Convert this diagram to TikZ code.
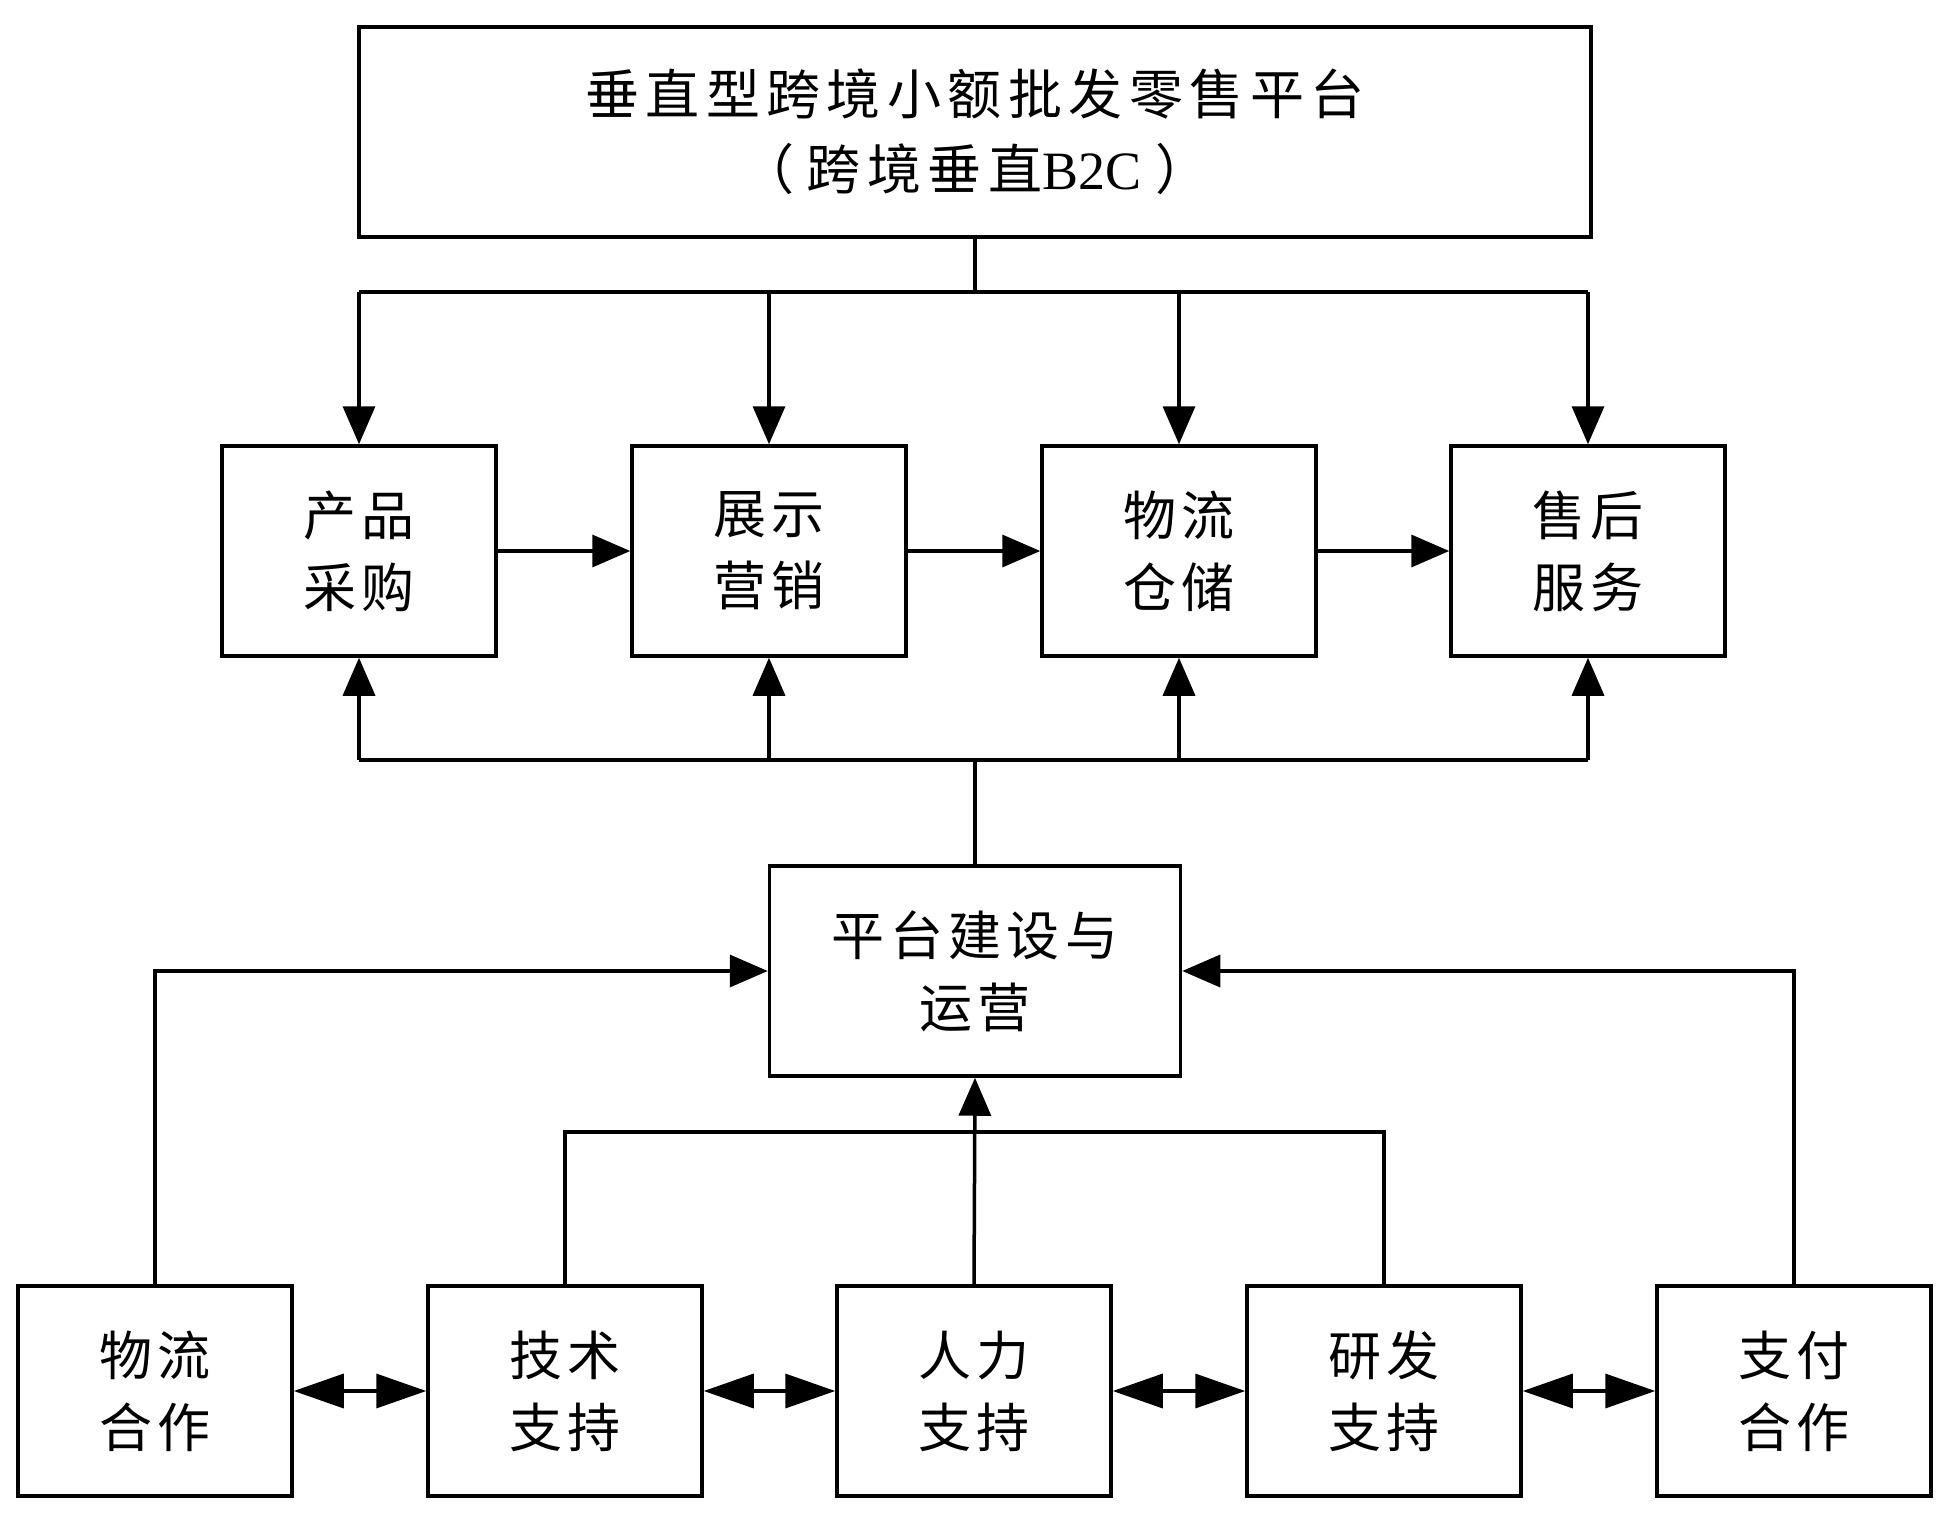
\documentclass[tikz,border=0pt]{standalone}
\usepackage{fontspec}
\setmainfont{Liberation Serif}
\newfontfamily\cjk[LetterSpace=10]{Noto Sans CJK SC}
\newfontfamily\cjkt[LetterSpace=12]{Noto Sans CJK SC}
\usetikzlibrary{arrows.meta}
\tikzset{
  box/.style={draw, line width=3.5pt, inner sep=0pt, align=center,
    minimum width=274pt, minimum height=210pt,
    font=\cjk\fontsize{53}{72}\selectfont},
  conn/.style={line width=3.5pt},
  arr/.style={line width=3.5pt, -{Triangle[length=38pt,width=32pt]}},
  darr/.style={line width=3.5pt, {Triangle[length=50pt,width=34pt]}-{Triangle[length=50pt,width=34pt]}}
}
\begin{document}
\begin{tikzpicture}[x=1pt,y=-1pt]
\useasboundingbox (0,0) rectangle (1960,1514);
\fill[white] (0,0) rectangle (1960,1514);
% top
\node[box, minimum width=1232pt, minimum height=210pt, font=\cjkt\fontsize{54}{75}\selectfont] (top) at (975,132) {垂直型跨境小额批发零售平台\\（\hspace{12pt}跨境垂直{\rmfamily B2C}\hspace{14pt}）};
% row 2
\node[box] (b1) at (359,551) {产品\\采购};
\node[box] (b2) at (769,551) {展示\\营销};
\node[box] (b3) at (1179,551) {物流\\仓储};
\node[box] (b4) at (1588,551) {售后\\服务};
% platform
\node[box, minimum width=411pt] (plat) at (975,971) {平台建设与\\运营};
% bottom row
\node[box] (c1) at (155,1391) {物流\\合作};
\node[box] (c2) at (565,1391) {技术\\支持};
\node[box] (c3) at (974,1391) {人力\\支持};
\node[box] (c4) at (1384,1391) {研发\\支持};
\node[box] (c5) at (1794,1391) {支付\\合作};
\coordinate (busT) at (975,292);
\coordinate (busM) at (975,760);
\coordinate (busB) at (975,1132);
% top bus
\draw[conn] (top.south) -- (busT);
\draw[conn] (b1.north |- busT) -- (b4.north |- busT);
\foreach \b in {b1,b2,b3,b4} \draw[arr] (\b.north |- busT) -- (\b.north);
% row arrows
\draw[arr] (b1.east) -- (b2.west);
\draw[arr] (b2.east) -- (b3.west);
\draw[arr] (b3.east) -- (b4.west);
% middle bus
\draw[conn] (plat.north) -- (busM);
\draw[conn] (b1.south |- busM) -- (b4.south |- busM);
\foreach \b in {b1,b2,b3,b4} \draw[arr] (\b.south |- busM) -- (\b.south);
% to platform
\draw[arr] (c1.north) |- (plat.west);
\draw[arr] (c5.north) |- (plat.east);
\draw[conn] (c2.north) -- (c2.north |- busB) -- (c4.north |- busB) -- (c4.north);
\draw[arr] (c3.north) -- (plat.south);
% double arrows
\draw[darr] (c1.east) -- (c2.west);
\draw[darr] (c2.east) -- (c3.west);
\draw[darr] (c3.east) -- (c4.west);
\draw[darr] (c4.east) -- (c5.west);
\end{tikzpicture}
\end{document}
